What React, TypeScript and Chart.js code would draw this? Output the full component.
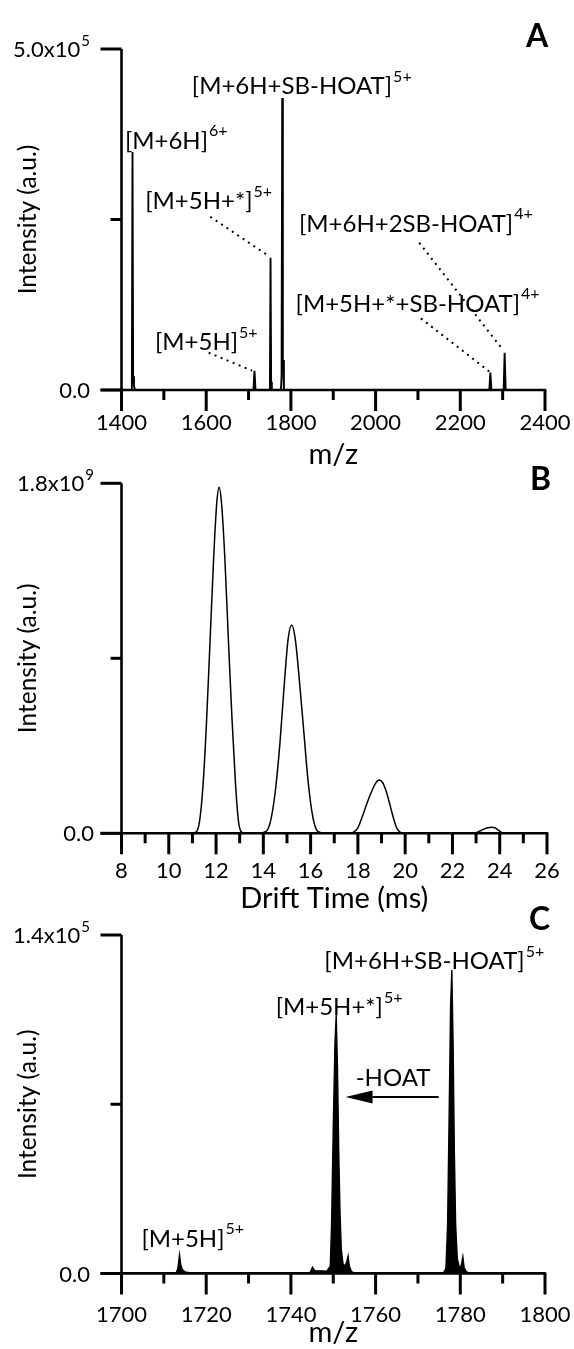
import React, { useEffect, useRef } from "react";
import { Chart, registerables } from "chart.js";

Chart.register(...registerables);

const FONT = "Lato, 'Open Sans', 'DejaVu Sans', sans-serif";

// ================= Panel A : full mass spectrum =================
const aMz = [1400, 1423, 1424.5, 1426, 1427.5, 1429.5, 1432, 1711.5, 1714, 1716.5, 1749, 1750.5, 1751.9, 1753.3, 1755, 1776.5, 1778, 1779.5, 1781, 1782, 1783.5, 2268.5, 2271, 2273.5, 2302.3, 2304.7, 2307.1, 2400];
const aIntensity = [0, 0, 2.0e4, 3.49e5, 2.0e4, 6e3, 0, 0, 2.8e4, 0, 0, 1.5e4, 1.94e5, 1.2e4, 0, 0, 2.0e4, 4.28e5, 3.0e4, 4.4e4, 0, 0, 2.54e4, 0, 0, 5.47e4, 0, 0];
const aXMajor = [1400, 1600, 1800, 2000, 2200, 2400];
const aXMinor = [1500, 1700, 1900, 2100, 2300];
const aYMajor = [0, 500000];
const aYMinor = [250000];
const aYTickText = ["0.0", "5.0x10"];
const aYTickSup = ["", "5"];
const aLabelText = ["[M+6H]", "[M+6H+SB-HOAT]", "[M+5H+*]", "[M+5H]", "[M+6H+2SB-HOAT]", "[M+5H+*+SB-HOAT]"];
const aLabelCharge = ["6+", "5+", "5+", "5+", "4+", "4+"];
const aLabelMz = [1408, 1566, 1456, 1479, 1819, 1811];
const aLabelInt = [3.54e5, 4.34e5, 2.65e5, 5.86e4, 2.32e5, 1.15e5];
const aLeaderMzFrom = [1609.7, 1605.7, 2103, 2107];
const aLeaderIntFrom = [2.54e5, 5.47e4, 2.16e5, 1.05e5];
const aLeaderMzTo = [1744, 1708.5, 2301, 2269];
const aLeaderIntTo = [1.98e5, 2.83e4, 5.86e4, 2.68e4];

// ================= Panel B : arrival time distribution =================
const bTime = [8, 10.9, 11.15, 11.3, 11.45, 11.6, 11.75, 11.9, 12.03, 12.13, 12.23, 12.37, 12.52, 12.67, 12.82, 12.95, 13.08, 13.3,
  13.8, 14.1, 14.3, 14.5, 14.7, 14.9, 15.05, 15.2, 15.35, 15.5, 15.7, 15.9, 16.1, 16.3, 16.55, 16.85, 17.2,
  17.6, 17.8, 18.0, 18.2, 18.4, 18.6, 18.75, 18.9, 19.05, 19.2, 19.35, 19.5, 19.65, 19.8, 20.0,
  22.9, 23.1, 23.3, 23.5, 23.65, 23.8, 23.95, 24.1, 24.3, 26];
const bIntensity = [0, 0, 6e6, 6e7, 2.5e8, 5.8e8, 1.0e9, 1.42e9, 1.7e9, 1.78e9, 1.7e9, 1.42e9, 1.0e9, 6e8, 2.6e8, 6e7, 6e6, 0,
  0, 8e6, 6e7, 2.1e8, 4.6e8, 7.9e8, 1.0e9, 1.071e9, 1.0e9, 8.2e8, 5.4e8, 2.6e8, 8e7, 1e7, 2e6, 3e6, 0,
  0, 5e6, 2.8e7, 9e7, 1.6e8, 2.2e8, 2.58e8, 2.74e8, 2.6e8, 2.15e8, 1.5e8, 8e7, 2.5e7, 5e6, 0,
  0, 8e6, 2e7, 2.9e7, 3.1e7, 2.8e7, 1.5e7, 3e6, 0, 0];
const bXMajor = [8, 10, 12, 14, 16, 18, 20, 22, 24, 26];
const bXMinor = [9, 11, 13, 15, 17, 19, 21, 23, 25];
const bYMajor = [0, 1.8e9];
const bYMinor = [0.9e9];
const bYTickText = ["0.0", "1.8x10"];
const bYTickSup = ["", "9"];

// ================= Panel C : zoomed mass spectrum =================
const cMz = [1700, 1712.9, 1713.3, 1713.7, 1714.0, 1714.4, 1715.0, 1716.0,
  1744.5, 1745.1, 1745.6, 1748.5, 1749.3, 1749.6, 1750.0, 1750.4, 1750.7, 1751.0, 1751.3, 1751.6, 1751.9, 1752.3, 1752.8, 1753.2, 1753.5, 1753.8, 1754.3, 1755,
  1776.0, 1776.6, 1777.0, 1777.4, 1777.7, 1778.0, 1778.3, 1778.6, 1778.9, 1779.3, 1779.8, 1780.2, 1780.6, 1780.9, 1781.4, 1782, 1800];
const cIntensity = [300, 300, 2e3, 7.7e3, 3.5e3, 1.5e3, 700, 300,
  300, 2.6e3, 1.2e3, 1e3, 3e3, 2e4, 6e4, 9.5e4, 1.07e5, 8.5e4, 5e4, 2.5e4, 1e4, 4e3, 3e3, 5e3, 7.2e3, 3e3, 800, 300,
  300, 2e3, 2e4, 7e4, 1.1e5, 1.255e5, 9.5e4, 5e4, 2e4, 6e3, 2.5e3, 3e3, 6.9e3, 2.5e3, 800, 300, 300];
const cXMajor = [1700, 1720, 1740, 1760, 1780, 1800];
const cXMinor = [1710, 1730, 1750, 1770, 1790];
const cYMajor = [0, 1.4e5];
const cYMinor = [0.7e5];
const cYTickText = ["0.0", "1.4x10"];
const cYTickSup = ["", "5"];
const cLabelText = ["[M+6H+SB-HOAT]", "[M+5H+*]", "-HOAT", "[M+5H]"];
const cLabelCharge = ["5+", "5+", "", "5+"];
const cLabelMz = [1747.9, 1736.4, 1755.3, 1704.7];
const cLabelInt = [1.259e5, 1.069e5, 7.75e4, 1.1e4];
const cArrowFromMz = [1774.9];
const cArrowToMz = [1752.9];
const cArrowInt = [7.3e4];

const TICK_FONT = 22;
const TITLE_FONT_X = 29;
const TITLE_FONT_Y = 24.5;
const LABEL_FONT = 24;
const SUP_FONT = 16;

type Area = { left: number; right: number; top: number; bottom: number };
type Spec = {
  key: string;
  top: number;
  height: number;
  area: Area;
  xMin: number;
  xMax: number;
  yMax: number;
  xs: number[];
  ys: number[];
  smooth: boolean;
  fill: boolean;
  lineWidth: number;
  xMajor: number[];
  xMinor: number[];
  yMajor: number[];
  yMinor: number[];
  yTickText: string[];
  yTickSup: string[];
  yLabelRight: number;
  xLabelOffset: number;
  xTitle: string;
  yTitle: string;
  letter: string;
  letterX: number;
  letterY: number;
  labelText: string[];
  labelCharge: string[];
  labelX: number[];
  labelY: number[];
  leaderX1: number[];
  leaderY1: number[];
  leaderX2: number[];
  leaderY2: number[];
  arrowX1: number[];
  arrowX2: number[];
  arrowY: number[];
};

function drawRich(ctx: CanvasRenderingContext2D, x: number, baseline: number, main: string, sup: string, size: number, supSize: number, alignRight: boolean) {
  ctx.font = `${size}px ${FONT}`;
  const wm = ctx.measureText(main).width;
  ctx.font = `${supSize}px ${FONT}`;
  const ws = sup ? ctx.measureText(sup).width + 1 : 0;
  const start = alignRight ? x - wm - ws : x;
  ctx.textAlign = "left";
  ctx.textBaseline = "alphabetic";
  ctx.font = `${size}px ${FONT}`;
  ctx.fillText(main, start, baseline);
  if (sup) {
    ctx.font = `${supSize}px ${FONT}`;
    ctx.fillText(sup, start + wm + 1, baseline - size * 0.52);
  }
}

function decor(spec: Spec) {
  return {
    id: "decor" + spec.key,
    afterDatasetsDraw(chart: any) {
      const ctx: CanvasRenderingContext2D = chart.ctx;
      const sx = chart.scales.x;
      const sy = chart.scales.y;
      const L = chart.chartArea.left;
      const R = chart.chartArea.right;
      const T = sy.getPixelForValue(spec.yMax);
      const B = sy.getPixelForValue(0);
      ctx.save();
      ctx.fillStyle = "#000";
      ctx.strokeStyle = "#000";

      // dotted leader lines
      ctx.lineWidth = 2;
      ctx.lineCap = "butt";
      ctx.setLineDash([2, 4.5]);
      for (let i = 0; i < spec.leaderX1.length; i++) {
        ctx.beginPath();
        ctx.moveTo(sx.getPixelForValue(spec.leaderX1[i]), sy.getPixelForValue(spec.leaderY1[i]));
        ctx.lineTo(sx.getPixelForValue(spec.leaderX2[i]), sy.getPixelForValue(spec.leaderY2[i]));
        ctx.stroke();
      }
      ctx.setLineDash([]);

      // arrows
      for (let i = 0; i < spec.arrowX1.length; i++) {
        const x1 = sx.getPixelForValue(spec.arrowX1[i]);
        const x2 = sx.getPixelForValue(spec.arrowX2[i]);
        const y = sy.getPixelForValue(spec.arrowY[i]);
        const head = 27;
        ctx.lineWidth = 1.8;
        ctx.beginPath();
        ctx.moveTo(x1, y);
        ctx.lineTo(x2 + head, y);
        ctx.stroke();
        ctx.beginPath();
        ctx.moveTo(x2, y);
        ctx.lineTo(x2 + head, y - 6.5);
        ctx.lineTo(x2 + head, y + 6.5);
        ctx.closePath();
        ctx.fill();
      }

      // axes
      ctx.lineWidth = 2.6;
      ctx.beginPath();
      ctx.moveTo(L, T);
      ctx.lineTo(L, B);
      ctx.stroke();
      ctx.beginPath();
      ctx.moveTo(L - 21, B);
      ctx.lineTo(R + 1.3, B);
      ctx.stroke();
      ctx.lineWidth = 3;
      for (const v of spec.yMajor) {
        const y = sy.getPixelForValue(v);
        ctx.beginPath();
        ctx.moveTo(L - 21, y);
        ctx.lineTo(L, y);
        ctx.stroke();
      }
      for (const v of spec.yMinor) {
        const y = sy.getPixelForValue(v);
        ctx.beginPath();
        ctx.moveTo(L - 11, y);
        ctx.lineTo(L, y);
        ctx.stroke();
      }
      for (const v of spec.xMajor) {
        const x = sx.getPixelForValue(v);
        ctx.beginPath();
        ctx.moveTo(x, B);
        ctx.lineTo(x, B + 21);
        ctx.stroke();
      }
      for (const v of spec.xMinor) {
        const x = sx.getPixelForValue(v);
        ctx.beginPath();
        ctx.moveTo(x, B);
        ctx.lineTo(x, B + 10);
        ctx.stroke();
      }

      // y tick labels (with superscript exponent)
      for (let i = 0; i < spec.yMajor.length; i++) {
        const y = sy.getPixelForValue(spec.yMajor[i]);
        drawRich(ctx, spec.yLabelRight, y + 8, spec.yTickText[i], spec.yTickSup[i], TICK_FONT, 15, true);
      }

      // peak annotations
      for (let i = 0; i < spec.labelText.length; i++) {
        drawRich(ctx, sx.getPixelForValue(spec.labelX[i]), sy.getPixelForValue(spec.labelY[i]), spec.labelText[i], spec.labelCharge[i], LABEL_FONT, SUP_FONT, false);
      }

      // panel letter
      ctx.font = `bold 32px ${FONT}`;
      ctx.textAlign = "left";
      ctx.textBaseline = "alphabetic";
      ctx.fillText(spec.letter, spec.letterX, spec.letterY);
      ctx.restore();
    },
  };
}

function Panel({ spec }: { spec: Spec }) {
  const ref = useRef<HTMLCanvasElement>(null);
  useEffect(() => {
    const canvas = ref.current as HTMLCanvasElement;
    const a = spec.area;
    const pts = spec.xs.map((x, i) => ({ x, y: spec.ys[i] }));
    const chart = new Chart(canvas, {
      type: "line",
      data: {
        datasets: [
          {
            data: pts,
            borderColor: "#000",
            backgroundColor: "#000",
            borderWidth: spec.lineWidth,
            pointRadius: 0,
            fill: spec.fill ? "origin" : false,
            tension: 0,
            cubicInterpolationMode: spec.smooth ? "monotone" : "default",
          } as any,
        ],
      },
      options: {
        responsive: false,
        animation: false,
        devicePixelRatio: 1,
        events: [],
        layout: { padding: { left: 0, top: a.top, right: 574 - a.right, bottom: 0 } },
        plugins: { legend: { display: false }, tooltip: { enabled: false } },
        scales: {
          x: {
            type: "linear",
            min: spec.xMin,
            max: spec.xMax,
            grid: { display: false, drawTicks: true, tickLength: spec.xLabelOffset },
            border: { display: false },
            afterBuildTicks: (s: any) => {
              s.ticks = spec.xMajor.map((v) => ({ value: v }));
            },
            afterFit: (s: any) => {
              s.height = spec.height - a.bottom;
            },
            ticks: {
              padding: 0,
              color: "#000",
              font: { family: FONT, size: TICK_FONT },
              maxRotation: 0,
              autoSkip: false,
              callback: (v: any) => String(v),
            },
            title: { display: true, text: spec.xTitle, color: "#000", font: { family: FONT, size: TITLE_FONT_X }, padding: 0 },
          },
          y: {
            type: "linear",
            min: 0,
            max: spec.yMax,
            grid: { display: false, drawTicks: false },
            border: { display: false },
            ticks: { display: false },
            afterFit: (s: any) => {
              s.width = a.left;
            },
            title: { display: true, text: spec.yTitle, color: "#000", font: { family: FONT, size: TITLE_FONT_Y }, padding: { top: 13, bottom: 0 } },
          },
        },
      } as any,
      plugins: [decor(spec)],
    });
    return () => chart.destroy();
  }, []);
  return (
    <canvas
      ref={ref}
      width={574}
      height={spec.height}
      style={{ position: "absolute", left: 0, top: spec.top, width: 574, height: spec.height }}
    />
  );
}

const specA: Spec = {
  key: "A", top: 0, height: 472,
  area: { left: 121.5, right: 545, top: 49, bottom: 390 },
  xMin: 1400, xMax: 2400, yMax: 500000,
  xs: aMz, ys: aIntensity, smooth: false, fill: false, lineWidth: 1.9,
  xMajor: aXMajor, xMinor: aXMinor, yMajor: aYMajor, yMinor: aYMinor,
  yTickText: aYTickText, yTickSup: aYTickSup, yLabelRight: 90, xLabelOffset: 20,
  xTitle: "m/z", yTitle: "Intensity (a.u.)",
  letter: "A", letterX: 526, letterY: 47,
  labelText: aLabelText, labelCharge: aLabelCharge, labelX: aLabelMz, labelY: aLabelInt,
  leaderX1: aLeaderMzFrom, leaderY1: aLeaderIntFrom, leaderX2: aLeaderMzTo, leaderY2: aLeaderIntTo,
  arrowX1: [], arrowX2: [], arrowY: [],
};

const specB: Spec = {
  key: "B", top: 465, height: 451,
  area: { left: 121.5, right: 547, top: 18.3, bottom: 368.3 },
  xMin: 8, xMax: 26, yMax: 1.8e9,
  xs: bTime, ys: bIntensity, smooth: true, fill: false, lineWidth: 1.5,
  xMajor: bXMajor, xMinor: bXMinor, yMajor: bYMajor, yMinor: bYMinor,
  yTickText: bYTickText, yTickSup: bYTickSup, yLabelRight: 94, xLabelOffset: 24,
  xTitle: "Drift Time (ms)", yTitle: "Intensity (a.u.)",
  letter: "B", letterX: 530, letterY: 25,
  labelText: [], labelCharge: [], labelX: [], labelY: [],
  leaderX1: [], leaderY1: [], leaderX2: [], leaderY2: [],
  arrowX1: [], arrowX2: [], arrowY: [],
};

const specC: Spec = {
  key: "C", top: 895, height: 455,
  area: { left: 121.5, right: 545, top: 40, bottom: 378.5 },
  xMin: 1700, xMax: 1800, yMax: 1.4e5,
  xs: cMz, ys: cIntensity, smooth: false, fill: true, lineWidth: 1.4,
  xMajor: cXMajor, xMinor: cXMinor, yMajor: cYMajor, yMinor: cYMinor,
  yTickText: cYTickText, yTickSup: cYTickSup, yLabelRight: 90, xLabelOffset: 28,
  xTitle: "m/z", yTitle: "Intensity (a.u.)",
  letter: "C", letterX: 529, letterY: 35,
  labelText: cLabelText, labelCharge: cLabelCharge, labelX: cLabelMz, labelY: cLabelInt,
  leaderX1: [], leaderY1: [], leaderX2: [], leaderY2: [],
  arrowX1: cArrowFromMz, arrowX2: cArrowToMz, arrowY: cArrowInt,
};

export default function App() {
  return (
    <div style={{ position: "absolute", left: 0, top: 0, width: 574, height: 1349, background: "#fff", overflow: "hidden" }}>
      <Panel spec={specA} />
      <Panel spec={specB} />
      <Panel spec={specC} />
    </div>
  );
}
